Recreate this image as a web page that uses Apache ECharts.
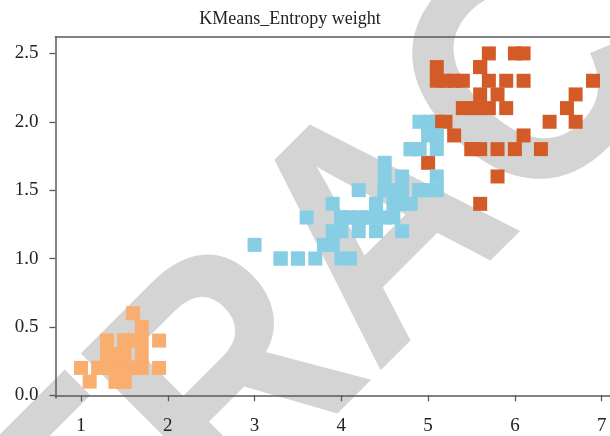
<!DOCTYPE html>
<html>
<head>
<meta charset="utf-8">
<script src="https://cdn.jsdelivr.net/npm/echarts@6/dist/echarts.min.js"></script>
<style>
  html, body { margin: 0; padding: 0; background: #ffffff; }
  #chart { width: 610px; height: 436px; }
</style>
</head>
<body>
<div id="chart"></div>
<script>
// Iris petal measurements [petal length, petal width], grouped by KMeans cluster
var clusterSmall = [
  [1.4,0.2],[1.4,0.2],[1.3,0.2],[1.5,0.2],[1.4,0.2],[1.7,0.4],[1.4,0.3],[1.5,0.2],[1.4,0.2],[1.5,0.1],
  [1.5,0.2],[1.6,0.2],[1.4,0.1],[1.1,0.1],[1.2,0.2],[1.5,0.4],[1.3,0.4],[1.4,0.3],[1.7,0.3],[1.5,0.3],
  [1.7,0.2],[1.5,0.4],[1.0,0.2],[1.7,0.5],[1.9,0.2],[1.6,0.2],[1.6,0.4],[1.5,0.2],[1.4,0.2],[1.6,0.2],
  [1.6,0.2],[1.5,0.4],[1.5,0.1],[1.4,0.2],[1.5,0.1],[1.2,0.2],[1.3,0.2],[1.4,0.1],[1.3,0.2],[1.5,0.2],
  [1.3,0.3],[1.3,0.3],[1.3,0.2],[1.6,0.6],[1.9,0.4],[1.4,0.3],[1.6,0.2],[1.4,0.2],[1.5,0.2],[1.4,0.2]
];
var clusterLarge = [
  [6.0,2.5],[5.9,2.1],[5.6,1.8],[5.8,2.2],[6.6,2.1],[6.3,1.8],[5.8,1.8],[6.1,2.5],[5.1,2.0],[5.3,1.9],
  [5.5,2.1],[5.1,2.4],[5.3,2.3],[5.5,1.8],[6.7,2.2],[6.9,2.3],[5.7,2.3],[6.7,2.0],[5.7,2.1],[6.0,1.8],
  [5.6,2.1],[5.8,1.6],[6.1,1.9],[6.4,2.0],[5.6,2.2],[5.6,1.4],[6.1,2.3],[5.6,2.4],[5.5,1.8],[5.4,2.1],
  [5.6,2.4],[5.1,2.3],[5.9,2.3],[5.7,2.5],[5.2,2.3],[5.2,2.0],[5.4,2.3],[5.0,1.7]
];
var clusterMiddle = [
  [4.7,1.4],[4.5,1.5],[4.9,1.5],[4.0,1.3],[4.6,1.5],[4.5,1.3],[4.7,1.6],[3.3,1.0],[4.6,1.3],[3.9,1.4],
  [3.5,1.0],[4.2,1.5],[4.0,1.0],[4.7,1.4],[3.6,1.3],[4.4,1.4],[4.5,1.5],[4.1,1.0],[4.5,1.5],[3.9,1.1],
  [4.8,1.8],[4.0,1.3],[4.9,1.5],[4.7,1.2],[4.3,1.3],[4.4,1.4],[4.8,1.4],[4.5,1.5],[3.5,1.0],[3.8,1.1],
  [3.7,1.0],[3.9,1.2],[5.1,1.6],[4.5,1.5],[4.5,1.6],[4.7,1.5],[4.4,1.3],[4.1,1.3],[4.0,1.3],[4.4,1.2],
  [4.6,1.4],[4.0,1.2],[3.3,1.0],[4.2,1.3],[4.2,1.2],[4.2,1.3],[4.3,1.3],[3.0,1.1],[4.1,1.3],
  [4.5,1.7],[5.1,1.9],[5.0,2.0],[5.0,1.5],[4.9,2.0],[4.9,1.8],[4.8,1.8],[4.9,1.8],[5.1,1.5],[4.8,1.8],
  [5.1,1.9],[5.0,1.9],[5.1,1.8]
];

var xTicks = [1, 2, 3, 4, 5, 6, 7];
var yTicks = [0.0, 0.5, 1.0, 1.5, 2.0, 2.5];
var titleText = 'KMeans_Entropy weight';
var stampText = 'RETRACTED';

var serif = '"Liberation Serif", "DejaVu Serif", serif';
var spine = { show: true, lineStyle: { color: '#5a5a5a', width: 1.5 } };

var chart = echarts.init(document.getElementById('chart'), null, { renderer: 'canvas' });

chart.setOption({
  animation: false,
  backgroundColor: '#ffffff',
  title: {
    text: titleText,
    left: 285,
    top: 5,
    textAlign: 'center',
    textStyle: { fontFamily: serif, fontSize: 18, fontWeight: 'normal', color: '#222222' }
  },
  // diagonal grey stamp behind the plot
  graphic: [{
    type: 'text',
    x: 387,
    y: 237,
    rotation: Math.PI / 4,
    scaleY: 1.107,
    z: -5,
    silent: true,
    style: {
      text: stampText,
      font: 'bold 294px "Liberation Sans", Arial, sans-serif',
      fill: '#d4d4d4',
      align: 'center',
      verticalAlign: 'middle'
    }
  }],
  grid: { left: 55.4, top: 37, right: 0, height: 364, containLabel: false },
  xAxis: [{
    type: 'value',
    min: 0.705,
    max: 7.096,
    axisLine: spine,
    axisTick: { show: true, length: 6, customValues: xTicks, lineStyle: { color: '#5a5a5a', width: 1.3 } },
    axisLabel: { customValues: xTicks, margin: 19, fontFamily: serif, fontSize: 19, color: '#222222',
      formatter: function (v) { return String(Math.round(v)); } },
    splitLine: { show: false }
  }, {
    type: 'value',
    position: 'top',
    min: 0.705,
    max: 7.096,
    axisLine: spine,
    axisTick: { show: false },
    axisLabel: { show: false },
    splitLine: { show: false }
  }],
  yAxis: [{
    type: 'value',
    min: -0.02,
    max: 2.62,
    axisLine: spine,
    axisTick: { show: true, length: 6, customValues: yTicks, lineStyle: { color: '#5a5a5a', width: 1.3 } },
    axisLabel: { customValues: yTicks, margin: 17, fontFamily: serif, fontSize: 19, color: '#222222',
      formatter: function (v) { return v.toFixed(1); } },
    splitLine: { show: false }
  }],
  series: [{
    type: 'scatter',
    data: clusterSmall,
    symbol: 'rect',
    symbolSize: 14,
    itemStyle: { color: '#f9ae70', opacity: 1 }
  }, {
    type: 'scatter',
    data: clusterLarge,
    symbol: 'rect',
    symbolSize: 14,
    itemStyle: { color: '#d35b28', opacity: 1 }
  }, {
    type: 'scatter',
    data: clusterMiddle,
    symbol: 'rect',
    symbolSize: 14,
    itemStyle: { color: '#87cee4', opacity: 1 }
  }]
});
</script>
</body>
</html>
